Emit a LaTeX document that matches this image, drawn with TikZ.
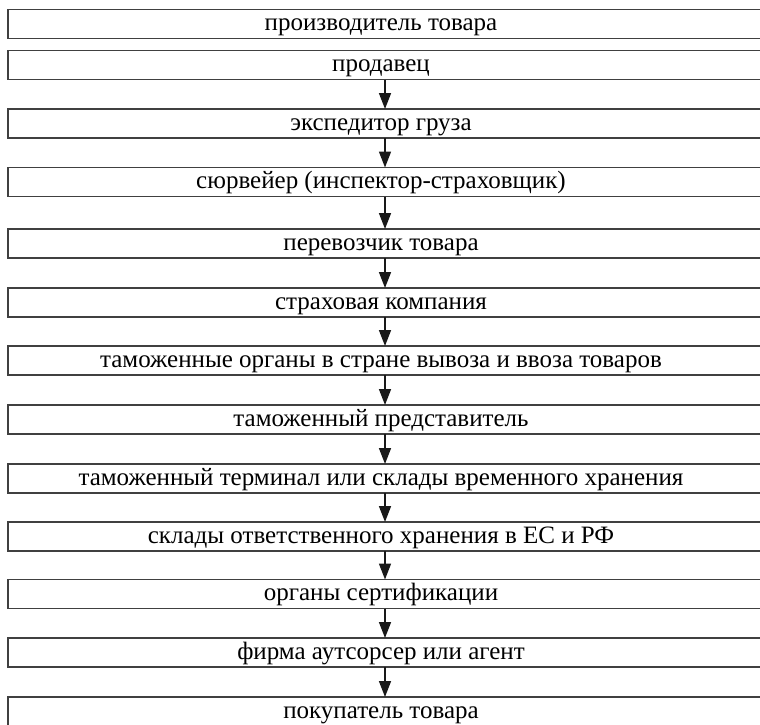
\documentclass[tikz,border=0pt]{standalone}
\usepackage{fontspec}
\setmainfont{Liberation Serif}
\usetikzlibrary{arrows.meta}
\begin{document}
\begin{tikzpicture}[x=1pt,y=-1pt,
  frame/.style={draw=black!75, line width=1.5pt},
  lbl/.style={anchor=base, inner sep=0, font=\fontsize{25}{29}\selectfont},
  arr/.style={-{Triangle[length=16pt,width=12pt]}, line width=1.6pt, draw=black!90, fill=black!90}]
\useasboundingbox (0,0) rectangle (760,724);
\clip (0,0) rectangle (760,724);
\foreach \i/\t/\s in {
  1/9.3/{производитель товара},
  2/50.7/{продавец},
  3/109/{экспедитор груза},
  4/167.5/{сюрвейер (инспектор-страховщик)},
  5/229/{перевозчик товара},
  6/288/{страховая компания},
  7/346/{таможенные органы в стране вывоза и ввоза товаров},
  8/405/{таможенный представитель},
  9/464/{таможенный терминал или склады временного хранения},
  10/522/{склады ответственного хранения в ЕС и РФ},
  11/579.5/{органы сертификации},
  12/638/{фирма аутсорсер или агент},
  13/697/{покупатель товара}}{
  \draw[frame] (8,\t) rectangle (790,\t+29);
  \node[lbl] (b\i) at (381,\t+21) {\s};
  \coordinate (t\i) at (385,\t);
  \coordinate (s\i) at (385,\t+29);
}
\foreach \i [count=\j from 3] in {2,...,12}
  \draw[arr] (s\i) -- (t\j);
\end{tikzpicture}
\end{document}
